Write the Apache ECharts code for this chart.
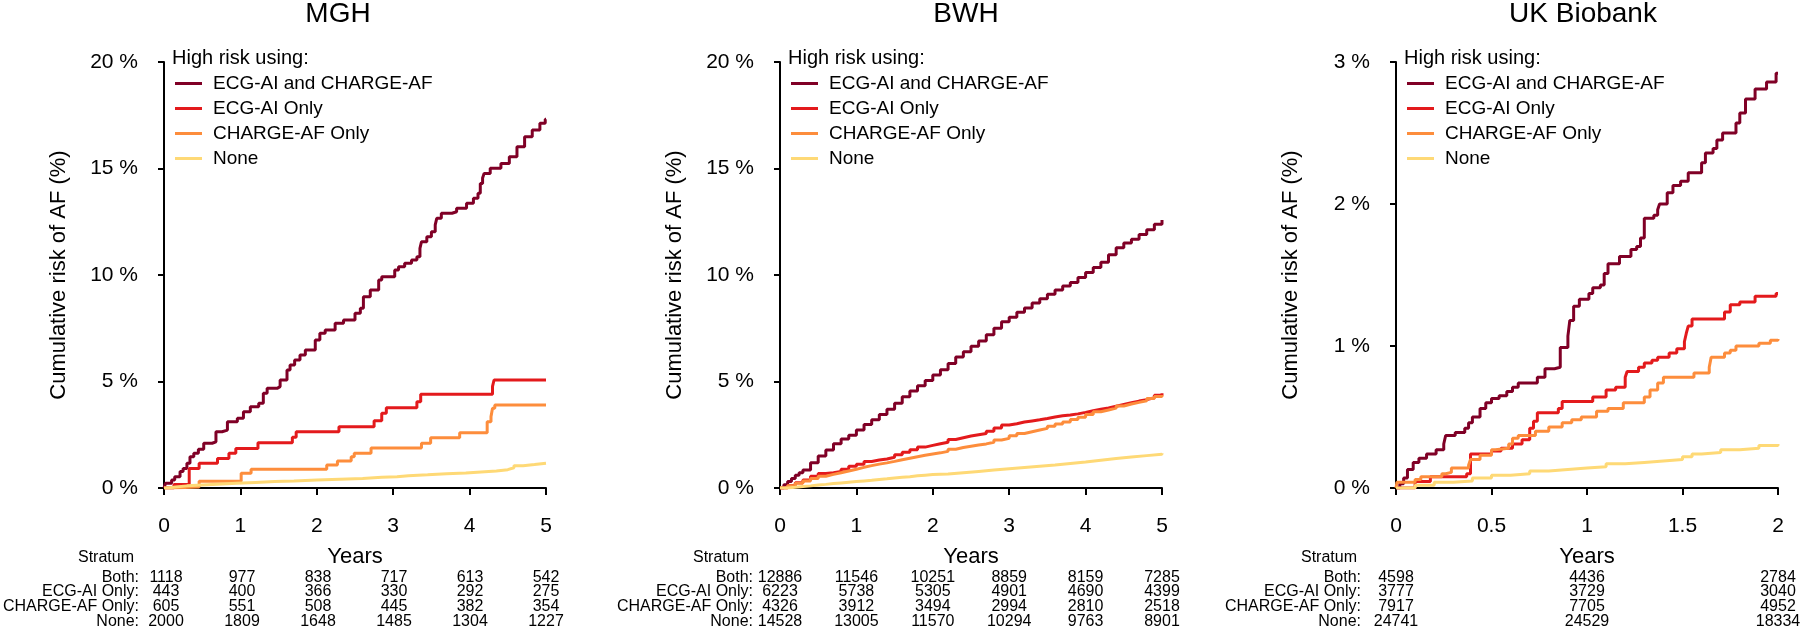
<!DOCTYPE html>
<html><head><meta charset="utf-8">
<script src="https://cdn.jsdelivr.net/npm/echarts@6/dist/echarts.min.js"></script>
<style>html,body{margin:0;padding:0;background:#fff}#c{width:1800px;height:629px}</style>
</head><body><div id="c"></div>
<script>
// ---------- data ----------
const panelTitles = ['MGH', 'BWH', 'UK Biobank'];
const seriesNames = ['ECG-AI and CHARGE-AF', 'ECG-AI Only', 'CHARGE-AF Only', 'None'];
const seriesColors = ['#800026', '#E31A1C', '#FD8D3C', '#FED976'];
const strata = ['Both:', 'ECG-AI Only:', 'CHARGE-AF Only:', 'None:'];
const legendHeader = 'High risk using:';
const xName = 'Years';
const yName = 'Cumulative risk of AF (%)';
const stratumHeader = 'Stratum';

// MGH (years, cumulative %)
const mghBoth = [[0,0],[0.02,0.22],[0.10,0.38],[0.14,0.53],[0.21,0.77],[0.25,0.92],[0.30,1.16],[0.34,1.47],[0.39,1.63],[0.45,1.82],[0.52,2.10],[0.63,2.17],[0.68,2.64],[0.76,2.72],[0.83,3.11],[0.96,3.27],[1.04,3.58],[1.13,3.82],[1.24,3.98],[1.30,4.45],[1.35,4.68],[1.48,4.76],[1.52,5.07],[1.61,5.54],[1.65,5.77],[1.71,6.01],[1.78,6.24],[1.85,6.48],[1.98,6.95],[2.04,7.26],[2.11,7.42],[2.24,7.73],[2.35,7.89],[2.50,8.20],[2.57,8.44],[2.61,8.98],[2.70,9.30],[2.81,9.77],[2.85,9.92],[3.02,10.23],[3.07,10.39],[3.15,10.55],[3.24,10.70],[3.31,10.86],[3.35,11.25],[3.37,11.56],[3.44,11.80],[3.50,12.03],[3.55,12.35],[3.57,12.66],[3.63,12.90],[3.77,12.97],[3.83,13.13],[3.96,13.37],[4.05,13.60],[4.11,13.84],[4.14,14.30],[4.17,14.55],[4.19,14.77],[4.27,15.01],[4.41,15.24],[4.52,15.55],[4.62,16.02],[4.72,16.49],[4.82,16.81],[4.92,17.12],[4.99,17.31],[5.00,17.31]];
const mghEcg = [[0,0],[0.13,0.17],[0.33,0.92],[0.46,1.16],[0.70,1.39],[0.85,1.63],[0.94,1.86],[1.23,2.13],[1.68,2.38],[1.73,2.64],[2.29,2.88],[2.75,3.16],[2.85,3.51],[2.91,3.77],[3.31,4.05],[3.36,4.40],[4.30,4.77],[4.32,5.07],[5.00,5.07]];
const mghCharge = [[0,0],[0.08,0.05],[0.46,0.32],[1.01,0.69],[1.14,0.88],[2.13,1.08],[2.27,1.27],[2.45,1.47],[2.49,1.63],[2.71,1.88],[3.37,2.10],[3.49,2.36],[3.87,2.59],[4.23,3.11],[4.28,3.35],[4.30,3.74],[4.33,3.90],[5.00,3.90]];
const mghNone = [[0,0],[0.05,0.05],[0.15,0.10],[0.30,0.14],[0.50,0.18],[0.70,0.22],[0.95,0.26],[1.20,0.30],[1.45,0.33],[1.70,0.37],[2.00,0.41],[2.30,0.45],[2.60,0.50],[2.85,0.53],[3.05,0.58],[3.20,0.62],[3.45,0.67],[3.70,0.70],[3.95,0.75],[4.15,0.80],[4.35,0.86],[4.50,0.95],[4.58,1.05],[4.70,1.10],[4.85,1.16],[5.00,1.16]];

// BWH
const bwhBoth = [[0,0],[0.05,0.15],[0.10,0.30],[0.15,0.45],[0.20,0.60],[0.25,0.72],[0.30,0.85],[0.40,1.18],[0.50,1.50],[0.60,1.78],[0.70,2.08],[0.80,2.30],[0.90,2.48],[1.00,2.72],[1.10,2.98],[1.20,3.20],[1.30,3.45],[1.40,3.70],[1.50,3.98],[1.60,4.28],[1.70,4.55],[1.80,4.80],[1.90,5.05],[2.00,5.30],[2.10,5.55],[2.20,5.85],[2.30,6.15],[2.40,6.40],[2.50,6.65],[2.60,6.90],[2.70,7.20],[2.80,7.50],[2.90,7.80],[3.00,8.02],[3.10,8.25],[3.20,8.45],[3.30,8.68],[3.40,8.88],[3.50,9.10],[3.60,9.30],[3.70,9.48],[3.80,9.65],[3.90,9.88],[4.00,10.12],[4.10,10.35],[4.20,10.60],[4.30,10.95],[4.40,11.28],[4.50,11.50],[4.60,11.68],[4.70,11.90],[4.80,12.12],[4.90,12.38],[5.00,12.58]];
const bwhEcg = [[0,0],[0.10,0.12],[0.20,0.25],[0.30,0.38],[0.40,0.55],[0.50,0.68],[0.60,0.72],[0.70,0.78],[0.80,0.88],[0.90,1.02],[1.00,1.12],[1.10,1.24],[1.20,1.31],[1.30,1.36],[1.40,1.44],[1.50,1.56],[1.60,1.68],[1.70,1.80],[1.80,1.92],[1.90,2.00],[2.00,2.08],[2.10,2.15],[2.20,2.28],[2.30,2.36],[2.40,2.44],[2.50,2.50],[2.60,2.56],[2.70,2.66],[2.80,2.82],[2.90,2.96],[3.00,3.02],[3.10,3.10],[3.20,3.15],[3.30,3.20],[3.40,3.26],[3.50,3.33],[3.60,3.39],[3.70,3.43],[3.80,3.48],[3.90,3.55],[4.00,3.63],[4.10,3.70],[4.20,3.76],[4.30,3.84],[4.40,3.92],[4.50,4.00],[4.60,4.08],[4.70,4.15],[4.80,4.24],[4.90,4.35],[5.00,4.45]];
const bwhCharge = [[0,0],[0.10,0.10],[0.20,0.22],[0.30,0.33],[0.40,0.45],[0.50,0.55],[0.60,0.64],[0.70,0.72],[0.80,0.80],[0.90,0.88],[1.00,0.97],[1.10,1.05],[1.20,1.12],[1.30,1.18],[1.40,1.25],[1.50,1.33],[1.60,1.40],[1.70,1.47],[1.80,1.54],[1.90,1.60],[2.00,1.65],[2.10,1.72],[2.20,1.82],[2.30,1.90],[2.40,1.96],[2.50,2.02],[2.60,2.07],[2.70,2.15],[2.80,2.25],[2.90,2.33],[3.00,2.45],[3.10,2.56],[3.20,2.64],[3.30,2.72],[3.40,2.80],[3.50,2.90],[3.60,3.00],[3.70,3.10],[3.80,3.22],[3.90,3.32],[4.00,3.45],[4.10,3.58],[4.20,3.66],[4.30,3.75],[4.40,3.85],[4.50,3.94],[4.60,4.02],[4.70,4.10],[4.80,4.20],[4.90,4.30],[5.00,4.37]];
const bwhNone = [[0,0],[0.10,0.03],[0.20,0.07],[0.30,0.10],[0.40,0.14],[0.50,0.17],[0.60,0.21],[0.70,0.24],[0.80,0.27],[0.90,0.30],[1.00,0.33],[1.10,0.36],[1.20,0.40],[1.30,0.43],[1.40,0.47],[1.50,0.50],[1.60,0.53],[1.70,0.57],[1.80,0.60],[1.90,0.63],[2.00,0.66],[2.20,0.72],[2.40,0.78],[2.60,0.84],[2.80,0.90],[3.00,0.96],[3.20,1.02],[3.40,1.08],[3.60,1.15],[3.80,1.22],[4.00,1.30],[4.20,1.38],[4.40,1.45],[4.60,1.52],[4.80,1.58],[5.00,1.63]];

// UK Biobank
const ukBoth = [[0,0],[0.02,0.03],[0.04,0.07],[0.06,0.13],[0.09,0.18],[0.12,0.21],[0.16,0.24],[0.21,0.27],[0.25,0.31],[0.26,0.37],[0.31,0.39],[0.36,0.42],[0.38,0.46],[0.40,0.50],[0.44,0.56],[0.47,0.60],[0.50,0.63],[0.54,0.65],[0.58,0.68],[0.61,0.71],[0.64,0.74],[0.74,0.78],[0.78,0.84],[0.83,0.85],[0.86,0.99],[0.90,1.07],[0.91,1.18],[0.93,1.28],[0.96,1.33],[1.01,1.37],[1.03,1.41],[1.07,1.43],[1.09,1.51],[1.11,1.58],[1.17,1.63],[1.23,1.68],[1.26,1.70],[1.28,1.76],[1.30,1.90],[1.35,1.92],[1.37,1.96],[1.38,2.00],[1.42,2.08],[1.45,2.13],[1.49,2.16],[1.53,2.22],[1.60,2.29],[1.62,2.36],[1.66,2.39],[1.68,2.45],[1.71,2.50],[1.78,2.57],[1.80,2.64],[1.83,2.74],[1.88,2.81],[1.94,2.86],[1.99,2.92],[2.00,2.92]];
const ukEcg = [[0,0],[0.10,0.045],[0.18,0.08],[0.37,0.10],[0.39,0.24],[0.50,0.26],[0.55,0.28],[0.61,0.31],[0.66,0.34],[0.70,0.42],[0.72,0.47],[0.74,0.53],[0.85,0.56],[0.87,0.61],[1.03,0.64],[1.10,0.69],[1.15,0.71],[1.20,0.78],[1.21,0.82],[1.27,0.85],[1.30,0.88],[1.34,0.90],[1.37,0.92],[1.43,0.95],[1.47,0.98],[1.51,1.03],[1.52,1.09],[1.53,1.14],[1.55,1.19],[1.72,1.24],[1.75,1.29],[1.80,1.31],[1.88,1.35],[1.99,1.37],[2.00,1.37]];
const ukCharge = [[0,0],[0.005,0.04],[0.10,0.06],[0.13,0.08],[0.24,0.10],[0.26,0.11],[0.29,0.14],[0.38,0.16],[0.39,0.20],[0.44,0.23],[0.50,0.27],[0.52,0.28],[0.59,0.31],[0.61,0.35],[0.64,0.37],[0.73,0.40],[0.80,0.43],[0.87,0.46],[0.92,0.48],[0.97,0.50],[1.05,0.54],[1.11,0.56],[1.19,0.60],[1.30,0.64],[1.33,0.69],[1.37,0.74],[1.40,0.78],[1.56,0.81],[1.64,0.85],[1.65,0.92],[1.72,0.95],[1.75,0.97],[1.78,1.00],[1.90,1.02],[1.96,1.04],[2.00,1.05]];
const ukNone = [[0,0],[0.10,0.02],[0.20,0.04],[0.30,0.05],[0.40,0.07],[0.50,0.09],[0.60,0.10],[0.70,0.12],[0.80,0.13],[0.90,0.14],[1.00,0.15],[1.10,0.17],[1.20,0.18],[1.30,0.19],[1.40,0.20],[1.50,0.22],[1.55,0.24],[1.60,0.25],[1.70,0.27],[1.80,0.28],[1.90,0.30],[2.00,0.31]];

// Numbers at risk
const mghRiskTimes = [0, 1, 2, 3, 4, 5];
const mghRisk = [[1118, 977, 838, 717, 613, 542], [443, 400, 366, 330, 292, 275], [605, 551, 508, 445, 382, 354], [2000, 1809, 1648, 1485, 1304, 1227]];
const bwhRiskTimes = [0, 1, 2, 3, 4, 5];
const bwhRisk = [[12886, 11546, 10251, 8859, 8159, 7285], [6223, 5738, 5305, 4901, 4690, 4399], [4326, 3912, 3494, 2994, 2810, 2518], [14528, 13005, 11570, 10294, 9763, 8901]];
const ukRiskTimes = [0, 1, 2];
const ukRisk = [[4598, 4436, 2784], [3777, 3729, 3040], [7917, 7705, 4952], [24741, 24529, 18334]];

// Axis scales
const mghAxis = { xMax: 5, xInterval: 1, yMax: 20, yInterval: 5 };
const bwhAxis = { xMax: 5, xInterval: 1, yMax: 20, yInterval: 5 };
const ukAxis = { xMax: 2, xInterval: 0.5, yMax: 3, yInterval: 1 };

// ---------- layout ----------
const FONT = 'Liberation Sans, Arial, Helvetica, sans-serif';
const panels = [
  { curves: [mghBoth, mghEcg, mghCharge, mghNone], riskT: mghRiskTimes, risk: mghRisk, axis: mghAxis, left: 164, titleX: 338, stratumX: 134, rowMargin: 27 },
  { curves: [bwhBoth, bwhEcg, bwhCharge, bwhNone], riskT: bwhRiskTimes, risk: bwhRisk, axis: bwhAxis, left: 780, titleX: 966, stratumX: 749, rowMargin: 27 },
  { curves: [ukBoth, ukEcg, ukCharge, ukNone], riskT: ukRiskTimes, risk: ukRisk, axis: ukAxis, left: 1396, titleX: 1583, stratumX: 1357, rowMargin: 35 }
];
const PW = 382, PT = 62, PH = 426;

const grid = [], xAxis = [], yAxis = [], series = [], title = [], legend = [];
panels.forEach((p, i) => {
  grid.push({ left: p.left, top: PT, width: PW, height: PH });
  xAxis.push({
    gridIndex: i, type: 'value', min: 0, max: p.axis.xMax, interval: p.axis.xInterval, offset: 17,
    axisLine: { show: true, lineStyle: { color: '#000', width: 2 } },
    axisTick: { show: true, length: 7, lineStyle: { color: '#000', width: 2 } },
    axisLabel: { color: '#000', fontSize: 21, fontFamily: FONT, margin: 11 },
    splitLine: { show: false },
    name: xName, nameLocation: 'middle', nameGap: 41,
    nameTextStyle: { color: '#000', fontSize: 22, fontFamily: FONT }
  });
  yAxis.push({
    gridIndex: i, type: 'value', min: 0, max: p.axis.yMax, interval: p.axis.yInterval, offset: 16,
    axisLine: { show: true, lineStyle: { color: '#000', width: 2 } },
    axisTick: { show: true, length: 6, lineStyle: { color: '#000', width: 2 } },
    axisLabel: { color: '#000', fontSize: 21, fontFamily: FONT, margin: 10, formatter: '{value} %' },
    splitLine: { show: false },
    name: yName, nameLocation: 'middle', nameGap: 78,
    nameTextStyle: { color: '#000', fontSize: 22, fontFamily: FONT }
  });
  p.curves.forEach((d, k) => {
    series.push({
      type: 'line', name: seriesNames[k], xAxisIndex: i, yAxisIndex: i, data: d,
      step: 'end', symbol: 'none', showSymbol: false, color: seriesColors[k],
      lineStyle: { width: 3, color: seriesColors[k] }, z: 2 + k
    });
  });
  title.push({ text: panelTitles[i], left: p.titleX, top: 0, textAlign: 'center', padding: 0,
    textStyle: { fontSize: 28, fontWeight: 'normal', color: '#000', fontFamily: FONT } });
  title.push({ text: legendHeader, left: p.left + 8, top: 48, padding: 0,
    textStyle: { fontSize: 20, fontWeight: 'normal', color: '#000', fontFamily: FONT } });
  title.push({ text: stratumHeader, left: p.stratumX, top: 550, textAlign: 'right', padding: 0,
    textStyle: { fontSize: 16, fontWeight: 'normal', color: '#000', fontFamily: FONT } });
  legend.push({
    data: seriesNames, left: p.left + 11, top: 74, orient: 'vertical', icon: 'rect',
    itemWidth: 27, itemHeight: 3, itemGap: 6, padding: 0, selectedMode: false,
    textStyle: { fontSize: 19, color: '#000', fontFamily: FONT, padding: [0, 0, 0, 6] }
  });
});
// risk tables
panels.forEach((p, i) => {
  const gi = panels.length + i;
  grid.push({ left: p.left, top: 570, width: PW, height: 60 });
  xAxis.push({ gridIndex: gi, type: 'value', min: 0, max: p.axis.xMax, show: false });
  yAxis.push({
    gridIndex: gi, type: 'category', data: strata, inverse: true,
    axisLine: { show: false }, axisTick: { show: false }, splitLine: { show: false },
    axisLabel: { interval: 0, color: '#000', fontSize: 16, fontFamily: FONT, margin: p.rowMargin }
  });
  const pts = [];
  p.risk.forEach((row, r) => row.forEach((n, k) => pts.push([p.riskT[k], r, n])));
  series.push({
    type: 'scatter', xAxisIndex: gi, yAxisIndex: gi, data: pts, symbolSize: 1,
    itemStyle: { color: '#fff', opacity: 1 },
    label: { show: true, position: 'inside', color: '#000', opacity: 1, textBorderWidth: 0,
      fontSize: 16, fontFamily: FONT, formatter: q => String(q.value[2]) },
    emphasis: { disabled: true },
    silent: true
  });
});

const chart = echarts.init(document.getElementById('c'), null, { renderer: 'canvas' });
chart.setOption({ animation: false, backgroundColor: '#fff', grid, xAxis, yAxis, series, title, legend, tooltip: { show: false } });
</script></body></html>
